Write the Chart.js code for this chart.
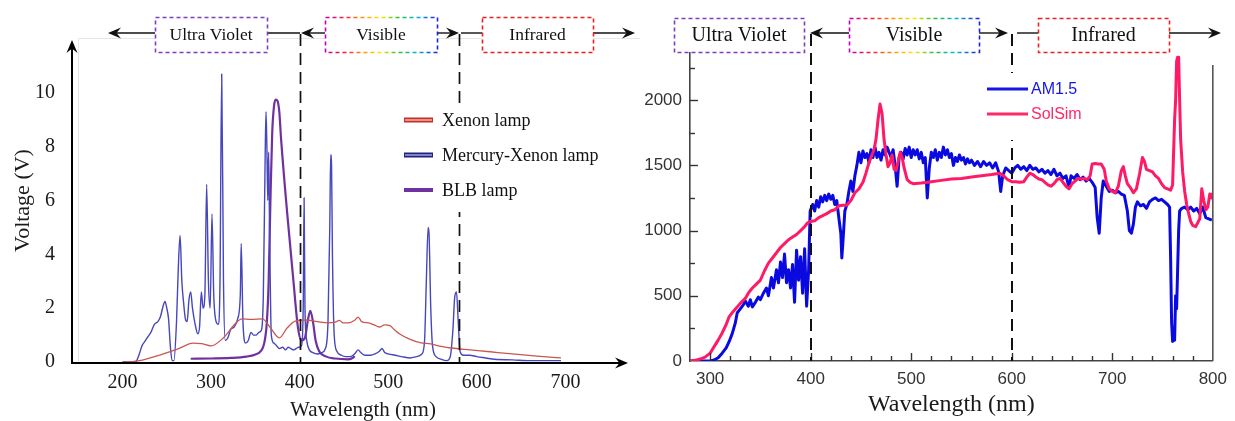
<!DOCTYPE html>
<html><head><meta charset="utf-8">
<script src="https://cdn.jsdelivr.net/npm/chart.js@4.4.0/dist/chart.umd.min.js"></script>
<style>
html,body{margin:0;padding:0;background:#fff;width:1235px;height:421px;overflow:hidden}
#c1{position:absolute;left:0;top:0;width:660px;height:421px}
#c2{position:absolute;left:630px;top:0;width:605px;height:421px}
</style></head><body>
<canvas id="c1" width="660" height="421"></canvas>
<canvas id="c2" width="605" height="421"></canvas>
<script>
// ---------- data ----------
const headerLabels = ['Ultra Violet','Visible','Infrared'];
const leftSeriesNames = ['Xenon lamp','Mercury-Xenon lamp','BLB lamp'];
const rightSeriesNames = ['AM1.5','SolSim'];
const leftTicksX = [200,300,400,500,600,700];
const leftTicksY = [0,2,4,6,8,10];
const rightTicksX = [300,400,500,600,700,800];
const rightTicksY = [0,500,1000,1500,2000];
const leftRegions = [400,580];
const rightRegions = [400,600];

const xenonLamp = [[200,0],[216,0.03],[238,0.22],[262,0.48],[280,0.7],[289,0.68],[300,0.6],[314,0.9],[328,1.45],[335,1.6],[345,1.58],[358,1.6],[367,1.27],[377,0.9],[386,1.27],[395,1.52],[407,1.56],[420,1.5],[432,1.45],[440,1.48],[445,1.55],[449,1.45],[455,1.45],[462,1.55],[466,1.67],[470,1.5],[478,1.45],[484,1.38],[490,1.3],[496,1.38],[502,1.35],[507,1.2],[513,1.04],[524,0.85],[536,0.72],[548,0.67],[560,0.58],[571,0.52],[593,0.45],[615,0.38],[640,0.3],[668,0.22],[695,0.15]];

const mercuryXenonLamp = [[200,0],[215,0.02],[219,0.3],[222,0.6],[226,0.8],[229,0.95],[232,1.1],[236,1.4],[240,1.5],[243,1.7],[246,2.1],[248,2.25],[250,2.0],[252,1.6],[254,0.6],[256,0.05],[258,0.05],[261,1.5],[263,3.5],[265,4.7],[267,3.0],[269,2.2],[271,1.6],[273,1.5],[275,2.3],[277,2.6],[279,2.0],[282,1.4],[285,1.05],[287,1.3],[289,2.6],[291,2.0],[293,2.5],[295,6.6],[297,3.0],[299,2.0],[301,5.5],[303,2.5],[305,1.6],[308,1.4],[310,2.8],[312,10.7],[314,3.0],[316,0.8],[319,0.9],[322,1.2],[326,1.3],[330,1.6],[333,2.5],[334,4.4],[336,1.5],[339,0.7],[342,0.8],[345,1.1],[348,1.0],[351,1.0],[354,1.1],[357,1.2],[359,2.5],[361,7.5],[362,9.3],[363,8.0],[364,6.0],[365,7.8],[366,5.0],[368,1.0],[371,0.7],[374,0.6],[377,0.5],[381,0.55],[384,0.45],[387,0.55],[390,0.5],[393,0.45],[396,0.5],[399,0.55],[402,0.6],[404,2.0],[405,6.1],[406,2.0],[408,0.8],[411,0.45],[415,0.35],[420,0.3],[425,0.35],[429,0.5],[432,1.5],[434,5.0],[435,7.7],[436,7.3],[437,4.0],[439,1.0],[442,0.4],[447,0.25],[452,0.2],[457,0.2],[462,0.3],[466,0.45],[469,0.35],[474,0.25],[480,0.25],[485,0.3],[490,0.4],[493,0.5],[496,0.35],[500,0.3],[508,0.25],[515,0.2],[525,0.15],[532,0.2],[538,0.3],[541,0.8],[543,3.0],[545,5.0],[546,4.8],[548,2.0],[550,0.6],[554,0.2],[560,0.1],[566,0.05],[570,0.2],[573,1.2],[575,2.4],[577,2.6],[579,1.5],[581,0.4],[585,0.25],[592,0.25],[600,0.2],[610,0.15],[620,0.1],[640,0.08],[660,0.05],[680,0.05],[695,0.05]];

const blbLamp = [[277,0.12],[300,0.13],[322,0.15],[340,0.2],[350,0.28],[356,0.4],[360,0.7],[363,1.5],[365,3],[367,6],[369,8.5],[371,9.5],[373,9.75],[375,9.7],[377,9.3],[379,8.3],[386,5.5],[393,3.0],[398,1.3],[402,0.8],[406,0.9],[409,1.5],[412,1.9],[415,1.5],[418,0.8],[422,0.4],[430,0.2],[440,0.13],[455,0.1],[460,0.15],[462,0.22]];

const am15 = [[280,0],[290,0],[300,0],[304,8],[308,25],[312,60],[316,100],[319,150],[322,210],[325,290],[327,370],[330,400],[333,430],[335,460],[338,420],[340,470],[342,415],[345,450],[348,490],[350,470],[353,520],[356,560],[358,500],[361,640],[363,560],[366,700],[368,600],[370,760],[372,640],[374,820],[376,600],[378,700],[380,560],[382,740],[384,450],[386,850],[388,620],[390,800],[392,520],[394,860],[396,420],[398,700],[399.5,1150],[402,1200],[404,1150],[406,1230],[408,1180],[410,1260],[412,1220],[414,1270],[416,1230],[418,1280],[420,1240],[422,1270],[424,1200],[426,1230],[428,1100],[430,980],[431,790],[432,900],[434,1150],[436,1200],[438,1300],[440,1380],[442,1300],[444,1420],[446,1500],[448,1600],[450,1520],[452,1610],[454,1560],[456,1590],[458,1520],[460,1620],[462,1560],[464,1640],[466,1560],[468,1600],[470,1540],[472,1620],[474,1580],[476,1640],[478,1600],[480,1560],[482,1620],[484,1500],[486,1340],[488,1560],[490,1600],[492,1550],[494,1630],[496,1580],[498,1640],[500,1560],[502,1620],[504,1580],[506,1620],[508,1550],[510,1600],[512,1520],[514,1560],[516,1250],[518,1480],[520,1600],[522,1560],[524,1620],[526,1540],[528,1600],[530,1560],[532,1640],[534,1580],[536,1620],[538,1560],[540,1590],[542,1500],[544,1560],[546,1530],[548,1580],[550,1540],[552,1560],[554,1510],[556,1550],[558,1520],[560,1540],[563,1500],[566,1530],[569,1490],[572,1530],[575,1500],[578,1520],[581,1480],[584,1520],[587,1450],[589,1300],[591,1420],[594,1480],[597,1460],[600,1440],[603,1480],[606,1500],[609,1470],[612,1490],[615,1460],[618,1500],[621,1470],[624,1480],[627,1450],[630,1470],[633,1440],[636,1460],[639,1430],[642,1470],[645,1420],[648,1440],[651,1400],[654,1420],[657,1330],[659,1420],[662,1400],[665,1430],[668,1390],[671,1410],[674,1380],[677,1400],[680,1370],[683,1330],[685,1100],[687,980],[689,1250],[691,1380],[694,1340],[697,1300],[700,1310],[703,1290],[706,1300],[709,1280],[712,1270],[715,1150],[717,1000],[719,980],[721,1050],[723,1180],[725,1220],[728,1190],[731,1200],[734,1170],[737,1220],[740,1240],[743,1250],[746,1230],[749,1240],[752,1220],[755,1200],[757,1180],[758,800],[759,300],[760,150],[761,250],[762,160],[763,500],[764,400],[765,700],[766,1000],[767,1150],[769,1170],[772,1180],[775,1160],[778,1180],[781,1150],[784,1170],[787,1130],[790,1180],[793,1100],[796,1090],[799,1080]];

const solSim = [[280,0],[285,5],[290,15],[295,30],[300,60],[304,110],[308,160],[312,215],[316,280],[319,340],[323,380],[327,415],[331,450],[335,480],[338,520],[342,560],[346,590],[350,620],[354,690],[358,750],[362,790],[366,830],[370,870],[374,900],[378,930],[382,950],[386,970],[390,1000],[394,1030],[397,1060],[400,1070],[404,1075],[408,1100],[412,1115],[416,1130],[420,1150],[424,1160],[428,1190],[432,1195],[436,1195],[440,1230],[444,1290],[448,1320],[452,1370],[455,1440],[458,1520],[460,1560],[463,1620],[465,1700],[467,1850],[469,1970],[471,1900],[473,1700],[475,1580],[477,1490],[479,1520],[481,1580],[483,1470],[485,1460],[487,1530],[489,1600],[491,1560],[493,1480],[496,1390],[499,1370],[502,1360],[510,1365],[520,1375],[530,1385],[540,1395],[550,1400],[560,1410],[570,1420],[580,1430],[588,1440],[592,1420],[596,1390],[600,1375],[604,1375],[608,1370],[612,1375],[615,1410],[618,1440],[621,1430],[624,1410],[627,1395],[630,1390],[633,1370],[636,1350],[639,1340],[642,1360],[645,1390],[648,1400],[651,1370],[654,1340],[657,1320],[660,1360],[663,1380],[666,1400],[669,1395],[672,1400],[675,1390],[678,1420],[680,1510],[683,1515],[686,1510],[689,1510],[692,1470],[694,1380],[697,1320],[700,1300],[703,1290],[706,1340],[709,1460],[711,1490],[713,1420],[715,1360],[718,1330],[721,1290],[724,1320],[727,1430],[730,1560],[732,1530],[734,1470],[737,1460],[740,1450],[743,1420],[746,1400],[749,1360],[752,1330],[755,1320],[758,1310],[760,1350],[761,1600],[762,1850],[763,2000],[764,2300],[765,2330],[766,2330],[767,2000],[768,1700],[770,1450],[772,1300],[774,1200],[776,1130],[778,1070],[780,1040],[783,1030],[785,1060],[787,1090],[789,1320],[791,1230],[793,1160],[795,1180],[797,1280],[799,1250],[800,1290]];

// ---------- helpers ----------
const toXY = arr => arr.map(p => ({x:p[0], y:p[1]}));
const SERIF = '"Liberation Serif", "Times New Roman", serif';
const SANS = '"Liberation Sans", Arial, sans-serif';

function arrowHead(ctx, x, y, dir){
  ctx.save();
  ctx.translate(x, y);
  ctx.rotate({r:0, l:Math.PI, u:-Math.PI/2}[dir]);
  ctx.beginPath();
  ctx.moveTo(0,0); ctx.lineTo(-13,-5.5); ctx.lineTo(-8.5,0); ctx.lineTo(-13,5.5); ctx.closePath();
  ctx.fill();
  ctx.restore();
}

function drawHeader(ctx, spec){
  ctx.save();
  ctx.strokeStyle = '#111'; ctx.fillStyle = '#111'; ctx.lineWidth = 1.4; ctx.setLineDash([]);
  spec.lines.forEach(([a,b]) => { ctx.beginPath(); ctx.moveTo(a, spec.y); ctx.lineTo(b, spec.y); ctx.stroke(); });
  spec.heads.forEach(([x,d]) => arrowHead(ctx, x, spec.y, d));
  spec.boxes.forEach((b, i) => {
    let stroke;
    if (i === 0) stroke = '#7b3fc4';
    else if (i === 2) stroke = '#e62222';
    else {
      const g = ctx.createLinearGradient(b[0], 0, b[0] + b[2], 0);
      g.addColorStop(0, '#c000c0'); g.addColorStop(0.18, '#ff2030'); g.addColorStop(0.35, '#ff9a00');
      g.addColorStop(0.5, '#ffe800'); g.addColorStop(0.65, '#30c030'); g.addColorStop(0.82, '#00b8e0');
      g.addColorStop(1, '#2020e0');
      stroke = g;
    }
    ctx.fillStyle = '#fff'; ctx.fillRect(b[0], b[1], b[2], b[3]);
    ctx.strokeStyle = stroke; ctx.lineWidth = 1.6; ctx.setLineDash([4,3]);
    ctx.strokeRect(b[0] + 0.5, b[1] + 0.5, b[2], b[3]);
    ctx.setLineDash([]);
    ctx.fillStyle = '#111'; ctx.font = spec.font; ctx.textAlign = 'center'; ctx.textBaseline = 'middle';
    ctx.fillText(headerLabels[i], b[0] + b[2]/2, b[1] + b[3]/2 + 1);
  });
  ctx.restore();
}

// ---------- left chart decorations ----------
const leftDeco = {
  id: 'leftDeco',
  beforeDatasetsDraw(chart){
    const ctx = chart.ctx, ca = chart.chartArea;
    ctx.save();
    ctx.strokeStyle = '#e6e6e6'; ctx.lineWidth = 1;
    ctx.beginPath(); ctx.moveTo(78.5, ca.bottom); ctx.lineTo(78.5, 38.5); ctx.lineTo(640, 38.5); ctx.stroke();
    ctx.restore();
  },
  afterDraw(chart){
    const ctx = chart.ctx, ca = chart.chartArea, xs = chart.scales.x;
    ctx.save();
    // region boundaries
    ctx.strokeStyle = '#111'; ctx.lineWidth = 1.7; ctx.setLineDash([12,7]);
    leftRegions.forEach(v => {
      const px = Math.round(xs.getPixelForValue(v)) + 0.5;
      ctx.beginPath(); ctx.moveTo(px, 34); ctx.lineTo(px, ca.bottom); ctx.stroke();
    });
    ctx.setLineDash([]);
    // axes with arrows
    ctx.strokeStyle = '#000'; ctx.fillStyle = '#000'; ctx.lineWidth = 2;
    ctx.beginPath(); ctx.moveTo(ca.left, ca.bottom + 2); ctx.lineTo(ca.left, 46); ctx.stroke();
    arrowHead(ctx, ca.left, 40, 'u');
    ctx.beginPath(); ctx.moveTo(ca.left - 1, ca.bottom + 1); ctx.lineTo(622, ca.bottom + 1); ctx.stroke();
    arrowHead(ctx, 628, ca.bottom + 1, 'r');
    // legend
    ctx.fillStyle = '#fff'; ctx.fillRect(398, 103, 210, 109);
    const ly = [120, 155, 190];
    const outer = ['#c0302a', '#22227a', '#7030a0'];
    const inner = ['#f2aaa2', '#9a9ae0', null];
    ly.forEach((y, i) => {
      ctx.lineCap = 'butt';
      ctx.strokeStyle = outer[i]; ctx.lineWidth = inner[i] ? 5 : 4;
      ctx.beginPath(); ctx.moveTo(404, y); ctx.lineTo(433, y); ctx.stroke();
      if (inner[i]) { ctx.strokeStyle = inner[i]; ctx.lineWidth = 1.6; ctx.beginPath(); ctx.moveTo(405, y); ctx.lineTo(432, y); ctx.stroke(); }
      ctx.fillStyle = '#111'; ctx.font = '18px ' + SERIF; ctx.textAlign = 'left'; ctx.textBaseline = 'middle';
      ctx.fillText(chart.data.datasets[i].label, 442, y + 1);
    });
    ctx.restore();
    drawHeader(ctx, {
      y: 33, font: '17.5px ' + SERIF,
      lines: [[112,155],[267,300],[305,325],[437,455],[461,482],[593,631]],
      heads: [[108,'l'],[301,'l'],[459,'r'],[635,'r']],
      boxes: [[155,17,112,35],[325,17,112,35],[482,17,111,35]]
    });
  }
};

// ---------- right chart decorations ----------
const OX = 630; // canvas offset of the right chart
const rightDeco = {
  id: 'rightDeco',
  afterDraw(chart){
    const ctx = chart.ctx, ca = chart.chartArea, xs = chart.scales.x, ys = chart.scales.y;
    ctx.save();
    // inward ticks
    ctx.strokeStyle = '#333'; ctx.lineWidth = 1.4;
    for (let v = 300; v < 800; v += 20) {
      const px = Math.round(xs.getPixelForValue(v)) + 0.5;
      const len = (v % 100 === 0) ? 8 : 5;
      ctx.beginPath(); ctx.moveTo(px, ca.bottom); ctx.lineTo(px, ca.bottom - len); ctx.stroke();
    }
    for (let v = 250; v <= 2250; v += 250) {
      const py = Math.round(ys.getPixelForValue(v)) + 0.5;
      const len = (v % 500 === 0) ? 8 : 5;
      ctx.beginPath(); ctx.moveTo(ca.left, py); ctx.lineTo(ca.left + len, py); ctx.stroke();
    }
    // right frame
    ctx.strokeStyle = '#555'; ctx.lineWidth = 1.6;
    ctx.beginPath(); ctx.moveTo(ca.right, 65); ctx.lineTo(ca.right, ca.bottom); ctx.stroke();
    // region boundaries
    ctx.strokeStyle = '#111'; ctx.lineWidth = 2; ctx.setLineDash([12,7]);
    rightRegions.forEach(v => {
      const px = Math.round(xs.getPixelForValue(v));
      ctx.beginPath(); ctx.moveTo(px, 34); ctx.lineTo(px, ca.bottom); ctx.stroke();
    });
    ctx.setLineDash([]);
    // legend
    ctx.fillStyle = '#fff'; ctx.fillRect(982 - OX, 73, 110, 67);
    const ly = [89, 114];
    const cols = ['#1515e6', '#ff2a6a'];
    ly.forEach((y, i) => {
      ctx.strokeStyle = cols[i]; ctx.lineWidth = 3.2;
      ctx.beginPath(); ctx.moveTo(987 - OX, y); ctx.lineTo(1028 - OX, y); ctx.stroke();
      ctx.fillStyle = cols[i]; ctx.font = '16px ' + SANS; ctx.textAlign = 'left'; ctx.textBaseline = 'middle';
      ctx.fillText(chart.data.datasets[i].label, 1031 - OX, y + 1);
    });
    ctx.restore();
    drawHeader(ctx, {
      y: 33, font: '20px ' + SERIF,
      lines: [[814 - OX, 849 - OX],[979 - OX, 1004 - OX],[1017 - OX, 1038 - OX],[1169 - OX, 1217 - OX]],
      heads: [[810 - OX,'l'],[1008 - OX,'r'],[1221 - OX,'r']],
      boxes: [[674 - OX,18,130,34],[849 - OX,18,130,34],[1038 - OX,18,131,34]]
    });
  }
};

// ---------- left chart ----------
new Chart(document.getElementById('c1'), {
  type: 'line',
  data: { datasets: [
    { label: leftSeriesNames[0], data: toXY(xenonLamp), borderColor: '#c8574f', borderWidth: 1.3 },
    { label: leftSeriesNames[1], data: toXY(mercuryXenonLamp), borderColor: '#4646bd', borderWidth: 1.4 },
    { label: leftSeriesNames[2], data: toXY(blbLamp), borderColor: '#7030a0', borderWidth: 2.2 }
  ]},
  options: {
    responsive: false, animation: false, devicePixelRatio: 1,
    elements: { point: { radius: 0 }, line: { cubicInterpolationMode: 'monotone', borderJoinStyle: 'round' } },
    layout: { padding: { top: 39, right: 6, left: 0, bottom: 0 } },
    plugins: { legend: { display: false }, tooltip: { enabled: false } },
    scales: {
      x: {
        type: 'linear', min: 143, max: 800,
        grid: { display: false, drawTicks: false }, border: { display: false },
        afterBuildTicks: s => { s.ticks = leftTicksX.map(v => ({ value: v })); },
        afterFit: s => { s.height = 59; },
        ticks: { font: { family: SERIF, size: 20 }, color: '#1a1a1a', padding: 9, maxRotation: 0, autoSkip: false, callback: v => String(v) },
        title: { display: true, text: 'Wavelength (nm)', color: '#1a1a1a', font: { family: SERIF, size: 21, lineHeight: 1 }, padding: { top: 0, bottom: 0 } }
      },
      y: {
        type: 'linear', min: 0, max: 12,
        grid: { display: false, drawTicks: false }, border: { display: false },
        afterBuildTicks: s => { s.ticks = leftTicksY.map(v => ({ value: v })); },
        afterFit: s => { s.width = 72; },
        ticks: { font: { family: SERIF, size: 20 }, color: '#1a1a1a', padding: 17, callback: v => String(v) },
        title: { display: true, text: 'Voltage (V)', color: '#1a1a1a', font: { family: SERIF, size: 22, lineHeight: 1.2 }, padding: { top: 10, bottom: 0 } }
      }
    }
  },
  plugins: [leftDeco]
});

// ---------- right chart ----------
new Chart(document.getElementById('c2'), {
  type: 'line',
  data: { datasets: [
    { label: rightSeriesNames[0], data: toXY(am15), borderColor: '#0a0ae0', borderWidth: 3, order: 2 },
    { label: rightSeriesNames[1], data: toXY(solSim), borderColor: '#ff1a66', borderWidth: 3, order: 1 }
  ]},
  options: {
    responsive: false, animation: false, devicePixelRatio: 1,
    elements: { point: { radius: 0 }, line: { tension: 0, borderJoinStyle: 'round' } },
    layout: { padding: { top: 48, right: 15, left: 0, bottom: 0 } },
    plugins: { legend: { display: false }, tooltip: { enabled: false } },
    scales: {
      x: {
        type: 'linear', min: 280, max: 800,
        grid: { display: false, drawTicks: false }, border: { display: true, color: '#444', width: 1.6 },
        afterBuildTicks: s => { s.ticks = rightTicksX.map(v => ({ value: v })); },
        afterFit: s => { s.height = 60; },
        ticks: { font: { family: SANS, size: 17 }, color: '#333', padding: 8, maxRotation: 0, autoSkip: false, callback: v => String(v) },
        title: { display: true, text: 'Wavelength (nm)', color: '#1a1a1a', font: { family: SERIF, size: 24, lineHeight: 1 }, padding: { top: 0, bottom: 4 } }
      },
      y: {
        type: 'linear', min: 0, max: 2400,
        grid: { display: false, drawTicks: false }, border: { display: true, color: '#444', width: 1.6 },
        afterBuildTicks: s => { s.ticks = rightTicksY.map(v => ({ value: v })); },
        afterFit: s => { s.width = 60; },
        ticks: { font: { family: SANS, size: 17 }, color: '#333', padding: 8, callback: v => String(v) }
      }
    }
  },
  plugins: [rightDeco]
});
</script>
</body></html>
